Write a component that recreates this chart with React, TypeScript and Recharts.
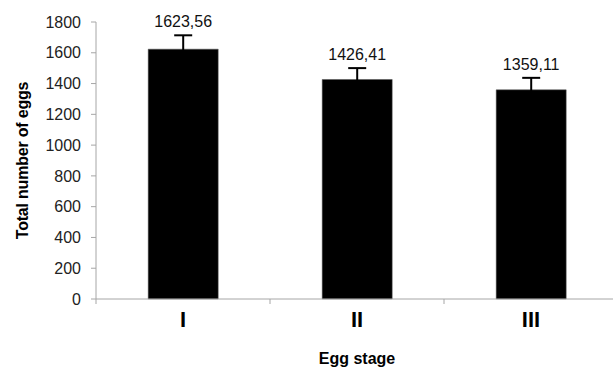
// Egg stage bar chart — total number of eggs per stage, with upper error bars.

import React from 'react'
import {
  BarChart,
  Bar,
  XAxis,
  YAxis,
  ErrorBar,
  LabelList,
  Label,
} from 'recharts'

const stages = ['I', 'II', 'III']
const totals = [1623.56, 1426.41, 1359.11]
const errors = [90, 74, 78]
const yTicks = [0, 200, 400, 600, 800, 1000, 1200, 1400, 1600, 1800]

const data = stages.map((stage, i) => ({ stage, total: totals[i], err: errors[i] }))

const CHART_W = 618
const CHART_H = 369
const Y_AXIS_W = 96
const HALF_BAND = (CHART_W - Y_AXIS_W) / stages.length / 2

const FONT = '"Liberation Sans", Arial, sans-serif'
const AXIS_GREY = '#a6a6a6'

function StageTick({ x, y, payload }: any) {
  return (
    <g>
      <line x1={x - HALF_BAND} x2={x - HALF_BAND} y1={y} y2={y + 5} stroke={AXIS_GREY} />
      <text
        x={x}
        y={y + 28}
        textAnchor="middle"
        fontFamily={FONT}
        fontSize={22}
        fontWeight="bold"
        fill="#000"
      >
        {payload.value}
      </text>
    </g>
  )
}

// label sits just above the error bar cap
function ValueLabel({ x, y, width, height, value, index }: any) {
  const pxPerUnit = height / value
  const capY = y - errors[index] * pxPerUnit
  return (
    <text
      x={x + width / 2}
      y={capY - 8}
      textAnchor="middle"
      fontFamily={FONT}
      fontSize={16}
      fill="#111"
    >
      {Number(value).toFixed(2).replace('.', ',')}
    </text>
  )
}

function YTitle({ viewBox }: any) {
  const cx = viewBox.x + 22
  const cy = viewBox.y + viewBox.height / 2
  return (
    <text
      x={cx}
      y={cy}
      transform={`rotate(-90 ${cx} ${cy})`}
      textAnchor="middle"
      dominantBaseline="central"
      fontFamily={FONT}
      fontSize={16}
      fontWeight="bold"
      letterSpacing={-0.2}
      fill="#000"
    >
      Total number of eggs
    </text>
  )
}

export default function App() {
  return (
    <div
      style={{
        position: 'absolute',
        left: 0,
        top: 0,
        width: 613,
        height: 369,
        overflow: 'hidden',
        background: '#fff',
      }}
    >
      <BarChart
        width={CHART_W}
        height={CHART_H}
        data={data}
        margin={{ top: 22, right: 0, left: 0, bottom: 0 }}
        barCategoryGap="30%"
      >
        <XAxis
          dataKey="stage"
          height={70}
          tickLine={false}
          tickSize={0}
          tickMargin={0}
          axisLine={{ stroke: AXIS_GREY }}
          tick={<StageTick />}
        >
          <Label
            value="Egg stage"
            position="insideBottom"
            offset={5}
            fontFamily={FONT}
            fontSize={16}
            fontWeight="bold"
            fill="#000"
          />
        </XAxis>
        <YAxis
          width={Y_AXIS_W}
          domain={[0, 1800]}
          ticks={yTicks}
          interval={0}
          tickSize={5}
          tickMargin={10}
          tickLine={{ stroke: AXIS_GREY }}
          axisLine={{ stroke: AXIS_GREY }}
          tick={{ fontFamily: FONT, fontSize: 16, fill: '#222' }}
        >
          <Label content={<YTitle />} />
        </YAxis>
        <Bar dataKey="total" fill="#000" stroke="#555" strokeWidth={0.5} isAnimationActive={false}>
          <ErrorBar dataKey="err" direction="y" width={9} stroke="#000" strokeWidth={2} />
          <LabelList dataKey="total" content={<ValueLabel />} />
        </Bar>
      </BarChart>
    </div>
  )
}
